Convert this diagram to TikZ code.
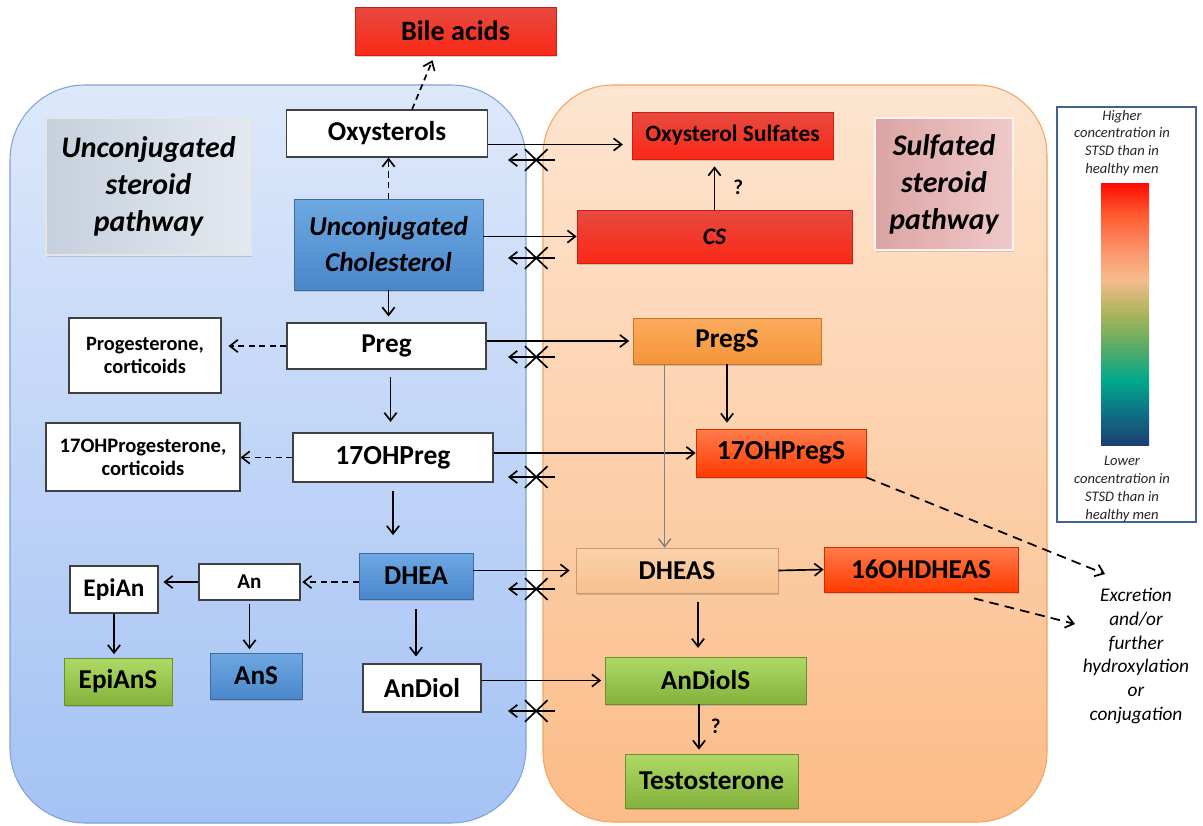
\documentclass[tikz,border=0pt]{standalone}
\usepackage{fontspec}
\setmainfont{Carlito}
\usetikzlibrary{arrows.meta,shadows,shapes.misc}

\definecolor{bluetop}{HTML}{DDE8FA}
\definecolor{bluebot}{HTML}{A4C2F4}
\definecolor{blueedge}{HTML}{7EA3D8}
\definecolor{orgtop}{HTML}{FDE5D0}
\definecolor{orgbot}{HTML}{FCBC88}
\definecolor{orgedge}{HTML}{F4A45C}
\definecolor{redtop}{HTML}{E64A40}
\definecolor{redbot}{HTML}{FB2816}
\definecolor{bxtop}{HTML}{6EA9E3}
\definecolor{bxbot}{HTML}{4A86CA}
\definecolor{ortop}{HTML}{FBAC5C}
\definecolor{orbot}{HTML}{F6943A}
\definecolor{hottop}{HTML}{FF7C4C}
\definecolor{hotbot}{HTML}{FF3A00}
\definecolor{peachtop}{HTML}{FAD2AC}
\definecolor{peachbot}{HTML}{F8C08E}
\definecolor{grtop}{HTML}{AED966}
\definecolor{grbot}{HTML}{84B23C}
\definecolor{graytag}{HTML}{C6D0DC}
\definecolor{graytagr}{HTML}{E3E9F0}
\definecolor{pinktag}{HTML}{DCA4A4}
\definecolor{pinktagr}{HTML}{EFC9C9}
\definecolor{legedge}{HTML}{41618F}
\definecolor{lgnavy}{HTML}{1D3D72}
\definecolor{lgpetrol}{HTML}{0F6E84}
\definecolor{lgteal}{HTML}{00A88C}
\definecolor{lggreen}{HTML}{6AAD62}
\definecolor{lgolive}{HTML}{A8B45A}
\definecolor{lgpeach}{HTML}{F5BB8D}
\definecolor{lgsalmon}{HTML}{FB9A70}
\definecolor{lgorange}{HTML}{FF5A30}
\definecolor{lgred}{HTML}{FF0A00}

\pgfdeclareverticalshading{stsdbar}{100bp}{color(0bp)=(lgnavy); color(25bp)=(lgnavy);
  color(31bp)=(lgpetrol); color(37.5bp)=(lgteal); color(45bp)=(lggreen); color(50bp)=(lgolive);
  color(56.5bp)=(lgpeach); color(61.5bp)=(lgsalmon); color(69bp)=(lgorange); color(75bp)=(lgred);
  color(100bp)=(lgred)}

\tikzset{
  sz/.style={font=\bfseries\fontsize{#1}{#1}\selectfont},
  tint/.style 2 args={top color=#1, bottom color=#2, draw=#2!80!black, line width=0.4pt,
    drop shadow={shadow xshift=0.8pt, shadow yshift=-1.2pt, opacity=0.35}},
  sidepath/.style={->, dash pattern=on 3.5pt off 2.5pt},
  outpath/.style={->, line width=1pt, dash pattern=on 5.5pt off 3.5pt},
  blocked/.style={cross out, draw, minimum width=0.42cm, minimum height=0.4cm, inner sep=0pt}
}

\begin{document}
\begin{tikzpicture}[x=0.02cm, y=-0.02cm, line width=0.95pt,
    >={Straight Barb[length=4.5pt,width=7pt]}]
  \useasboundingbox (0,0) rectangle (1203,825);

  % the two pathways
  \path[draw=blueedge, line width=0.6pt, top color=bluetop, bottom color=bluebot,
    rounded corners=1.5cm] (10,85) rectangle (526,823);
  \path[draw=orgedge, line width=0.6pt, top color=orgtop, bottom color=orgbot,
    rounded corners=1.4cm] (543,85) rectangle (1047,822);

  \begin{scope}[every node/.style={align=center, inner sep=0pt,
      font=\bfseries\itshape\fontsize{17}{21}\selectfont}]
    \node[left color=graytag, right color=graytagr, draw=white!80!gray,
      drop shadow={shadow xshift=0.8pt, shadow yshift=-1.2pt, opacity=0.3},
      minimum width=4.1cm, minimum height=2.74cm] (untag) at (148.5,186.5)
      {Unconjugated\\steroid\\pathway};
    \node[left color=pinktag, right color=pinktagr, draw=white!80!pink,
      drop shadow={shadow xshift=0.8pt, shadow yshift=-1.2pt, opacity=0.3},
      minimum width=2.76cm, minimum height=2.64cm] (sutag) at (944,184)
      {Sulfated\\steroid\\pathway};
  \end{scope}

  % white boxes
  \begin{scope}[every node/.style={draw=black!75, line width=0.6pt, fill=white,
      align=center, inner sep=0pt, sz=15.5}]
    \node[minimum width=4.02cm, minimum height=0.94cm] (oxy) at (387,133.5) {Oxysterols};
    \node[minimum width=3.98cm, minimum height=0.92cm] (preg) at (386.5,346) {Preg};
    \node[minimum width=3.04cm, minimum height=1.5cm,
      font=\bfseries\fontsize{11.6}{13}\selectfont] (prog) at (145,355.5)
      {Progesterone,\\corticoids};
    \node[minimum width=4cm, minimum height=0.98cm, sz=15.7] (ohpreg) at (393,457.5) {17OHPreg};
    \node[minimum width=3.88cm, minimum height=1.36cm,
      font=\bfseries\fontsize{11.7}{13}\selectfont] (ohprog) at (143,457)
      {17OHProgesterone,\\corticoids};
    \node[minimum width=2.02cm, minimum height=0.72cm, sz=12] (an) at (249.5,582) {An};
    \node[minimum width=1.76cm, minimum height=0.94cm, sz=14.4] (epian) at (114,589.5) {EpiAn};
    \node[minimum width=2.36cm, minimum height=0.96cm] (andiol) at (422,688) {AnDiol};
  \end{scope}

  % coloured boxes
  \begin{scope}[every node/.style={align=center, inner sep=0pt, sz=15.5}]
    \node[tint={redtop}{redbot}, minimum width=4.02cm, minimum height=0.96cm, sz=16]
      (bile) at (455.5,31) {Bile acids};
    \node[tint={bxtop}{bxbot}, minimum width=3.78cm, minimum height=1.82cm,
      font=\bfseries\itshape\fontsize{15.5}{20.5}\selectfont]
      (chol) at (388.5,244.5) {Unconjugated\\Cholesterol};
    \node[tint={redtop}{redbot}, minimum width=4.02cm, minimum height=0.94cm, sz=13.3]
      (oxs) at (732.5,135.5) {Oxysterol Sulfates};
    \node[tint={redtop}{redbot}, minimum width=5.5cm, minimum height=1.06cm,
      font=\bfseries\itshape\fontsize{13.5}{13.5}\selectfont] (cs) at (714.5,236.5) {CS};
    \node[tint={ortop}{orbot}, minimum width=3.76cm, minimum height=0.92cm]
      (pregs) at (727,341) {PregS};
    \node[tint={hottop}{hotbot}, minimum width=3.4cm, minimum height=0.96cm, sz=15.7]
      (ohpregs) at (781,453) {17OHPregS};
    \node[tint={bxtop}{bxbot}, minimum width=2.28cm, minimum height=0.92cm]
      (dhea) at (416,576) {DHEA};
    \node[tint={peachtop}{peachbot}, minimum width=4.04cm, minimum height=0.9cm]
      (dheas) at (677,570.5) {DHEAS};
    \node[tint={hottop}{hotbot}, minimum width=3.88cm, minimum height=0.9cm]
      (ohdheas) at (921,569.5) {16OHDHEAS};
    \node[tint={grtop}{grbot}, minimum width=2.16cm, minimum height=0.94cm]
      (epians) at (118,681.5) {EpiAnS};
    \node[tint={bxtop}{bxbot}, minimum width=1.84cm, minimum height=0.92cm]
      (ans) at (256,676) {AnS};
    \node[tint={grtop}{grbot}, minimum width=4.02cm, minimum height=0.94cm]
      (andiols) at (705.5,680.5) {AnDiolS};
    \node[tint={grtop}{grbot}, minimum width=3.46cm, minimum height=1.08cm]
      (testo) at (711.5,781) {Testosterone};
  \end{scope}

  % legend
  \node[draw=legedge, line width=1.6pt, fill=white, minimum width=2.78cm,
    minimum height=8.3cm] (legend) at (1126.5,314.5) {};
  \node[shading=stsdbar, minimum width=0.96cm, minimum height=5.26cm, inner sep=0pt]
    (bar) at (1125,314.5) {};
  \begin{scope}[every node/.style={align=center, inner sep=0pt, text=black!85,
      font=\itshape\fontsize{8.3}{10.2}\selectfont}]
    \node (hi) at (1122,143) {Higher\\concentration in\\STSD than in\\healthy men};
    \node (lo) at (1122,489) {Lower\\concentration in\\STSD than in\\healthy men};
  \end{scope}

  \node[align=center, font=\itshape\fontsize{11}{13.6}\selectfont] (excr) at (1136,656)
    {Excretion\\and/or\\further\\hydroxylation\\or\\conjugation};
  \coordinate (ex1) at (1105,574);
  \coordinate (ex2) at (1075,624);
  \coordinate (gtop) at ([xshift=0.64cm]pregs.south west);

  % reactions
  \draw[sidepath, shorten >=3pt] ([xshift=0.5cm]oxy.north) -- ([xshift=-0.42cm]bile.south);
  \draw[sidepath] (chol.north) -- (chol.north |- oxy.south);
  \draw[->, shorten >=5pt] ([yshift=-0.22cm]oxy.east) -- ([yshift=-0.22cm]oxy.east -| oxs.west);
  \draw[->] (chol.east |- cs.west) -- (cs.west);
  \draw[->, shorten >=4pt] (cs.north) -- (cs.north |- oxs.south)
    node[pos=0.45, right=7pt, sz=12] (q1) {?};
  \draw[->, shorten >=3.4pt] (chol.south) -- (chol.south |- preg.north);
  \draw[sidepath, shorten >=4pt] (preg.west) -- (preg.west -| prog.east);
  \draw[->, shorten >=2pt] (preg.east |- pregs.west) -- (pregs.west);
  \draw[->, shorten <=4.5pt, shorten >=6pt] ([xshift=0.08cm]preg.south) -- ([xshift=0.08cm]preg.south |- ohpreg.north);
  \draw[sidepath] (ohpreg.west) -- (ohpreg.west -| ohprog.east);
  \draw[->] (ohpreg.east |- ohpregs.west) -- (ohpregs.west);
  \draw[->, shorten <=5pt, shorten >=10pt] (ohpreg.south) -- (ohpreg.south |- dhea.north);
  \draw[->, shorten >=3.4pt] (pregs.south) -- (pregs.south |- ohpregs.north);
  \draw[->, gray, line width=0.8pt] (gtop) -- (gtop |- dheas.north);
  \draw[->, shorten >=3.4pt] (dhea.east |- dheas.west) -- (dheas.west);
  \draw[->] (dheas.east) -- (ohdheas.west);
  \draw[sidepath, shorten >=1pt] (dhea.west |- an.east) -- (an.east);
  \draw[->, shorten >=2.8pt] (an.west) -- (an.west -| epian.east);
  \draw[->, shorten >=2pt] (epian.south) -- (epian.south |- epians.north);
  \draw[->, shorten <=2pt, shorten >=2pt] (an.south) -- (an.south |- ans.north);
  \draw[->, shorten <=5.5pt, shorten >=4pt] (dhea.south) -- (dhea.south |- andiol.north);
  \draw[->, shorten >=2pt] (andiol.east |- andiols.west) -- (andiols.west);
  \draw[->, shorten <=5pt, shorten >=5pt] ([xshift=-0.15cm]andiols.north |- dheas.south) -- ([xshift=-0.15cm]andiols.north);
  \draw[->, shorten >=2.3pt] ([xshift=-0.13cm]andiols.south) -- ([xshift=-0.13cm]andiols.south |- testo.north)
    node[pos=0.45, right=3pt, sz=12] (q2) {?};
  \draw[outpath] (ohpregs.south east) -- (ex1);
  \draw[outpath] ([xshift=1.06cm, yshift=-0.12cm]ohdheas.south) -- (ex2);

  % blocked back transport
  \foreach \yy [count=\i] in {160,258,357,477,589,711} {
    \coordinate (bs\i) at (555,\yy);
    \coordinate (bt\i) at (508,\yy);
    \draw[->] (bs\i) -- node[pos=0.4, blocked] {} (bt\i);
  }

\end{tikzpicture}
\end{document}
